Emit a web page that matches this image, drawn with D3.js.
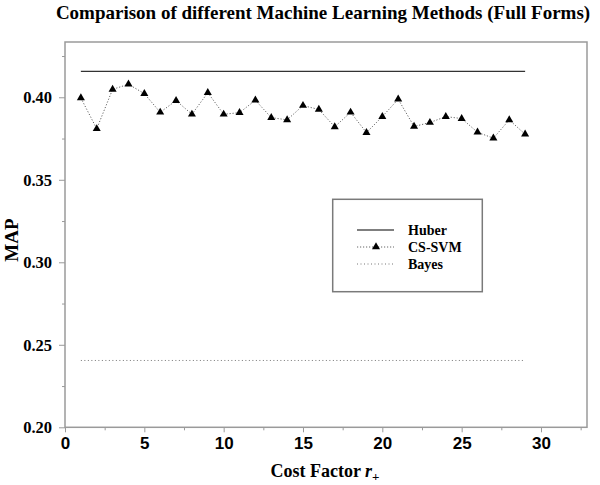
<!DOCTYPE html>
<html>
<head>
<meta charset="utf-8">
<script src="https://cdn.jsdelivr.net/npm/d3@7"></script>
<style>
  html, body { margin: 0; padding: 0; background: #fff; }
  svg { display: block; }
</style>
</head>
<body>
<svg id="chart" width="600" height="485"></svg>
<script>
// ---- data ----
const costFactors = [1,2,3,4,5,6,7,8,9,10,11,12,13,14,15,16,17,18,19,20,21,22,23,24,25,26,27,28,29];
const csSvm = [0.3996,0.3809,0.4048,0.4079,0.4022,0.3909,0.3980,0.3897,0.4028,0.3897,
               0.3907,0.3982,0.3877,0.3863,0.3950,0.3926,0.3821,0.3909,0.3786,0.3883,
               0.3988,0.3823,0.3847,0.3883,0.3871,0.3788,0.3752,0.3863,0.3776];
const huber = [0.4157,0.4157];
const huberX = [1,29];
const bayes = [0.2405,0.2405];
const bayesX = [1,29];
const xTicks = [0,5,10,15,20,25,30];
const xMinorTicks = [2.5,7.5,12.5,17.5,22.5,27.5,32.5];
const yTicks = [0.20,0.25,0.30,0.35,0.40];
const yMinorTicks = [0.225,0.275,0.325,0.375,0.425];
const legendLabels = ["Huber","CS-SVM","Bayes"];
const titleText = "Comparison of different Machine Learning Methods (Full Forms)";

// ---- layout ----
const svg = d3.select("#chart");
const L = 65, R = 587, T = 42, B = 427.3;
const x = d3.scaleLinear().domain([0, 32.9]).range([L, R]);
const y = d3.scaleLinear().domain([0.2, 0.4335]).range([B, T]);
const serif = "'Liberation Serif','Times New Roman',serif";
const sans = "'Liberation Sans',Arial,sans-serif";
const frameColor = "#9a9a9a";

// title
svg.append("text")
  .attr("x", 323).attr("y", 19)
  .attr("text-anchor", "middle")
  .style("font-family", serif).style("font-weight", "bold").style("font-size", "19px")
  .text(titleText);

// frame
svg.append("rect")
  .attr("x", L).attr("y", T).attr("width", R - L).attr("height", B - T)
  .attr("fill", "none").attr("stroke", frameColor).attr("stroke-width", 1.5);

// x axis
const xAxis = svg.append("g").attr("transform", `translate(0,${B})`)
  .call(d3.axisBottom(x).tickValues(xTicks).tickSize(5).tickPadding(5).tickFormat(d3.format("d")));
xAxis.select(".domain").remove();
xAxis.selectAll(".tick line").attr("stroke", frameColor);
xAxis.selectAll("text").style("font-family", sans).style("font-weight", "bold")
  .style("font-size", "17px").attr("fill", "#000");
const xMinor = svg.append("g").attr("transform", `translate(0,${B})`)
  .call(d3.axisBottom(x).tickValues(xMinorTicks).tickSize(3).tickFormat(""));
xMinor.select(".domain").remove();
xMinor.selectAll(".tick line").attr("stroke", frameColor);

// y axis
const yAxis = svg.append("g").attr("transform", `translate(${L},0)`)
  .call(d3.axisLeft(y).tickValues(yTicks).tickSize(6).tickPadding(7).tickFormat(d3.format(".2f")));
yAxis.select(".domain").remove();
yAxis.selectAll(".tick line").attr("stroke", frameColor);
yAxis.selectAll("text").style("font-family", serif).style("font-weight", "bold")
  .style("font-size", "16.5px").attr("fill", "#000");
const yMinor = svg.append("g").attr("transform", `translate(${L},0)`)
  .call(d3.axisLeft(y).tickValues(yMinorTicks).tickSize(3).tickFormat(""));
yMinor.select(".domain").remove();
yMinor.selectAll(".tick line").attr("stroke", frameColor);

// axis titles
const xt = svg.append("text")
  .attr("x", 325).attr("y", 477)
  .attr("text-anchor", "middle")
  .style("font-family", serif).style("font-weight", "bold").style("font-size", "18px");
xt.append("tspan").text("Cost Factor ");
xt.append("tspan").style("font-style", "italic").text("r");
xt.append("tspan").attr("dy", 4).style("font-size", "13px").text("+");

svg.append("text")
  .attr("transform", "translate(18,240) rotate(-90)")
  .attr("text-anchor", "middle")
  .style("font-family", serif).style("font-weight", "bold").style("font-size", "19px")
  .text("MAP");

// lines
const line = d3.line().x(d => x(d[0])).y(d => y(d[1]));

svg.append("path")
  .datum(huberX.map((d, i) => [d, huber[i]]))
  .attr("d", line).attr("fill", "none").attr("stroke", "#333").attr("stroke-width", 1.3);

svg.append("path")
  .datum(bayesX.map((d, i) => [d, bayes[i]]))
  .attr("d", line).attr("fill", "none").attr("stroke", "#777")
  .attr("stroke-width", 1).attr("stroke-dasharray", "1,2.5");

svg.append("path")
  .datum(costFactors.map((d, i) => [d, csSvm[i]]))
  .attr("d", line).attr("fill", "none").attr("stroke", "#666")
  .attr("stroke-width", 1).attr("stroke-dasharray", "1.2,1.8");

const tri = d3.symbol().type(d3.symbolTriangle).size(28);
svg.append("g").selectAll("path")
  .data(costFactors.map((d, i) => [d, csSvm[i]]))
  .join("path")
  .attr("transform", d => `translate(${x(d[0])},${y(d[1])})`)
  .attr("d", tri).attr("fill", "#000");

// legend
const lg = svg.append("g");
lg.append("rect")
  .attr("x", 332.7).attr("y", 199.3).attr("width", 149.6).attr("height", 92.4)
  .attr("fill", "#fff").attr("stroke", "#7a7a7a").attr("stroke-width", 1.5);
const ly = [230, 247, 264];
lg.append("line").attr("x1", 357).attr("x2", 394).attr("y1", ly[0]).attr("y2", ly[0])
  .attr("stroke", "#555").attr("stroke-width", 1.3);
lg.append("line").attr("x1", 357).attr("x2", 394).attr("y1", ly[1]).attr("y2", ly[1])
  .attr("stroke", "#666").attr("stroke-width", 1).attr("stroke-dasharray", "1.2,1.8");
lg.append("path").attr("transform", `translate(376,${ly[1]})`).attr("d", tri).attr("fill", "#000");
lg.append("line").attr("x1", 357).attr("x2", 394).attr("y1", ly[2]).attr("y2", ly[2])
  .attr("stroke", "#777").attr("stroke-width", 1).attr("stroke-dasharray", "1,2.5");
lg.selectAll("text.lbl").data(legendLabels).join("text")
  .attr("class", "lbl")
  .attr("x", 408).attr("y", (d, i) => ly[i] + 5)
  .style("font-family", serif).style("font-weight", "bold").style("font-size", "14px")
  .text(d => d);
</script>
</body>
</html>
